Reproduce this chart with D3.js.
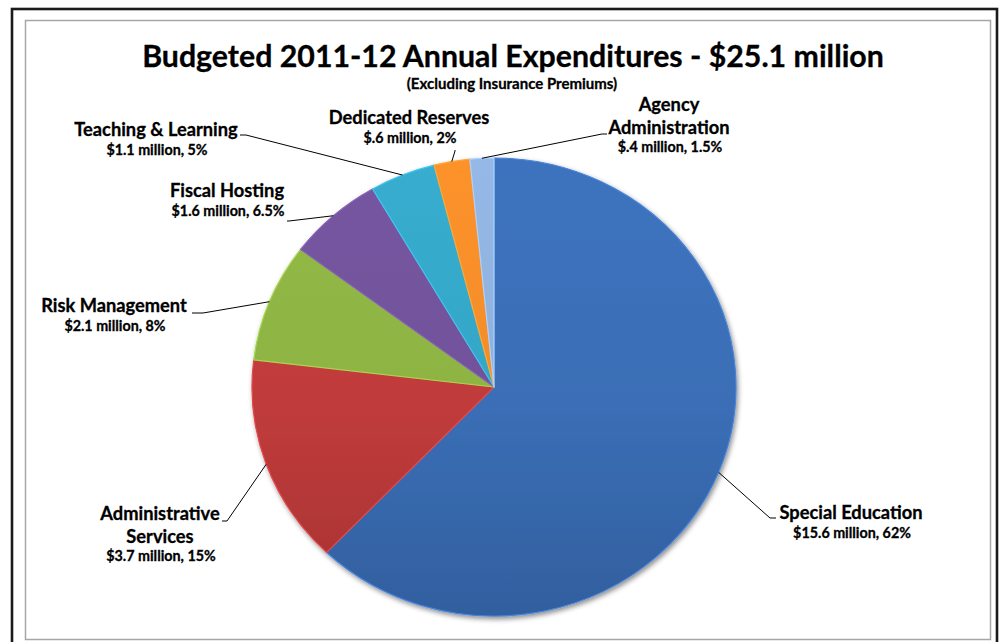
<!DOCTYPE html>
<html>
<head>
<meta charset="utf-8">
<script src="https://cdn.jsdelivr.net/npm/d3@7"></script>
<style>
  html, body { margin: 0; padding: 0; background: #fff; }
  #chart { width: 1004px; height: 642px; }
  text { font-family: Lato, "Open Sans", sans-serif; font-weight: bold; fill: #000; stroke: #000; stroke-width: 0.3px; }
</style>
</head>
<body>
<div id="chart"></div>
<script>
// data
const categories = ['Special Education', 'Administrative Services', 'Risk Management', 'Fiscal Hosting',
                    'Teaching & Learning', 'Dedicated Reserves', 'Agency Administration'];
const amounts = [15.6, 3.7, 2.1, 1.6, 1.1, 0.6, 0.4];   // $ million
const nameLines = [['Special Education'], ['Administrative', 'Services'], ['Risk Management'], ['Fiscal Hosting'],
                   ['Teaching & Learning'], ['Dedicated Reserves'], ['Agency', 'Administration']];
const valueLabels = ['$15.6 million, 62%', '$3.7 million, 15%', '$2.1 million, 8%', '$1.6 million, 6.5%',
                     '$1.1 million, 5%', '$.6 million, 2%', '$.4 million, 1.5%'];
const colors = ['#3a6eb6', '#c03b3b', '#8db343', '#71529a', '#35a6c6', '#f28c2a', '#8fb0dc'];
const title = 'Budgeted 2011-12 Annual Expenditures - $25.1 million';
const subtitle = '(Excluding Insurance Premiums)';

// label placement (center x, first baseline) and leader line start/elbow
const labelPos = [
  {x: 851, y: 519, start: [776, 518], elbow: [770, 518]},
  {x: 160, y: 520, start: [222, 521], elbow: [227, 521]},
  {x: 114, y: 312, start: [192, 313], elbow: [203, 313]},
  {x: 227, y: 197, start: [287, 221], elbow: [289, 221]},
  {x: 156, y: 136, start: [240, 135], elbow: [246, 135]},
  {x: 409, y: 124, start: [455, 150], elbow: [455, 151]},
  {x: 669, y: 111, start: [607, 134], elbow: [602, 134]}
];

const width_svg = 1004, height_svg = 642;
const cx = 494, cy = 387, rx = 242, ry = 229;

let svg = d3.select('#chart')
            .append('svg')
            .attr('width', width_svg)
            .attr('height', height_svg);

let defs = svg.append('defs');

// soft shadow under the pie
let shadow = defs.append('filter')
                 .attr('id', 'pieShadow')
                 .attr('x', '-10%').attr('y', '-10%')
                 .attr('width', '120%').attr('height', '125%');
shadow.append('feDropShadow')
      .attr('dx', 1.5).attr('dy', 2.5)
      .attr('stdDeviation', 2.5)
      .attr('flood-color', '#000')
      .attr('flood-opacity', 0.45);

// top-to-bottom shading for every slice
colors.forEach((c, i) => {
  let g = defs.append('linearGradient')
              .attr('id', 'grad' + i)
              .attr('gradientUnits', 'userSpaceOnUse')
              .attr('x1', 0).attr('y1', -ry)
              .attr('x2', 0).attr('y2', ry);
  g.append('stop').attr('offset', 0).attr('stop-color', d3.color(c).brighter(0.12));
  g.append('stop').attr('offset', 0.55).attr('stop-color', c);
  g.append('stop').attr('offset', 1).attr('stop-color', d3.color(c).darker(0.4));
});

// frames
svg.append('rect')
   .attr('x', 12).attr('y', 9)
   .attr('width', 985).attr('height', 640)
   .attr('fill', '#fff')
   .attr('stroke', '#1a1a1a')
   .attr('stroke-width', 2.6);
svg.append('rect')
   .attr('x', 25.5).attr('y', 20.5)
   .attr('width', 965).attr('height', 619)
   .attr('fill', '#fff')
   .attr('stroke', '#a6a6a6')
   .attr('stroke-width', 1.5);

// titles
svg.append('text')
   .attr('x', 513).attr('y', 67)
   .attr('text-anchor', 'middle')
   .style('font-size', '30.3px')
   .text(title);
svg.append('text')
   .attr('x', 512).attr('y', 89)
   .attr('text-anchor', 'middle')
   .style('font-size', '15px')
   .text(subtitle);

// pie
let data = categories.map((name, i) => ({name: name, value: amounts[i], idx: i}));
let pie = d3.pie().sort(null).value(d => d.value);
let arcs = pie(data);
let arc = d3.arc().innerRadius(0).outerRadius(ry);

let g_pie = svg.append('g')
               .attr('id', 'g_pie')
               .attr('transform', `translate(${cx}, ${cy}) scale(${rx / ry}, 1)`)
               .attr('filter', 'url(#pieShadow)');

g_pie.selectAll('path')
     .data(arcs)
     .enter().append('path')
             .attr('d', arc)
             .attr('fill', d => `url(#grad${d.data.idx})`)
             .attr('stroke', d => d3.color(colors[d.data.idx]).brighter(0.5))
             .attr('stroke-width', 1.2)
             .attr('stroke-linejoin', 'round')
             .attr('vector-effect', 'non-scaling-stroke');

// edge point of each slice at its middle angle (in page coords)
function edgePoint(d){
  let a = (d.startAngle + d.endAngle) / 2;
  return [cx + rx * Math.sin(a), cy - ry * Math.cos(a)];
}

// leader lines
let line = d3.line();
svg.append('g')
   .attr('id', 'g_leaders')
   .attr('fill', 'none')
   .attr('stroke', '#000')
   .attr('stroke-width', 1)
 .selectAll('path')
 .data(arcs)
 .enter().append('path')
         .attr('d', d => {
           let p = labelPos[d.data.idx];
           return line([p.start, p.elbow, edgePoint(d)]);
         });

// labels
let g_labels = svg.append('g').attr('id', 'g_labels');
arcs.forEach(d => {
  let i = d.data.idx, p = labelPos[i];
  let t = g_labels.append('text')
                  .attr('text-anchor', 'middle');
  nameLines[i].forEach((s, k) => {
    t.append('tspan')
     .attr('x', p.x)
     .attr('y', p.y + k * 22.5)
     .style('font-size', '18.3px')
     .text(s);
  });
  t.append('tspan')
   .attr('x', p.x + 1)
   .attr('y', p.y + (nameLines[i].length - 1) * 22.5 + 18.5)
   .style('font-size', '14.3px')
   .text(valueLabels[i]);
});
</script>
</body>
</html>
